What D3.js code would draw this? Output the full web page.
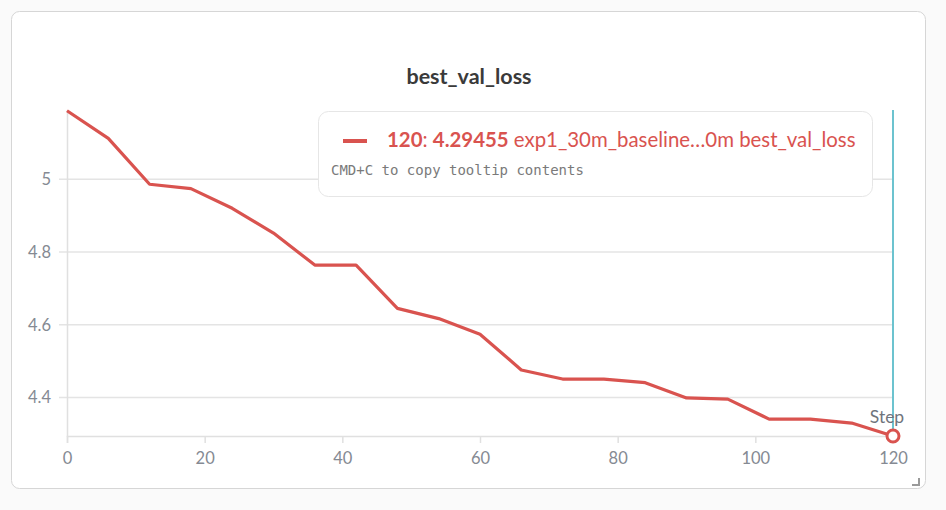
<!DOCTYPE html>
<html>
<head>
<meta charset="utf-8">
<script src="https://cdn.jsdelivr.net/npm/d3@7"></script>
<style>
  html, body { margin: 0; padding: 0; background: #fafafa; }
  svg { display: block; }
</style>
</head>
<body>
<div id="chart"></div>
<script>
// run history, logged every 6 steps
const steps = [0, 6, 12, 18, 24, 30, 36, 42, 48, 54, 60, 66, 72, 78, 84, 90, 96, 102, 108, 114, 120];
const bestValLoss = [5.188, 5.112, 4.986, 4.974, 4.920, 4.852, 4.764, 4.764, 4.645, 4.617, 4.574,
                     4.476, 4.451, 4.451, 4.441, 4.399, 4.396, 4.341, 4.341, 4.330, 4.29455];
const xTicks = [0, 20, 40, 60, 80, 100, 120];
const yTicks = [4.4, 4.6, 4.8, 5];
const runName = 'exp1_30m_baseline…0m best_val_loss';
const hoverStep = 120;

const width = 946, height = 510;
const plotLeft = 67, plotRight = 893, plotTop = 110, plotBottom = 436;
const red = '#d9534f';
const font = 'Lato, "Noto Sans", sans-serif';
const mono = '"DejaVu Sans Mono", "Liberation Mono", monospace';

const svg = d3.select('#chart')
              .append('svg')
              .attr('width', width)
              .attr('height', height);

// card
svg.append('rect')
   .attr('x', 11.5).attr('y', 11.5)
   .attr('width', 914).attr('height', 477)
   .attr('rx', 8)
   .attr('fill', '#fff')
   .attr('stroke', '#d6d6d6');

svg.append('text')
   .attr('x', 469).attr('y', 84)
   .attr('text-anchor', 'middle')
   .attr('font-family', font)
   .attr('font-weight', 'bold')
   .attr('font-size', '21.5px')
   .attr('fill', '#3a3a3a')
   .text('best_val_loss');

const x = d3.scaleLinear().domain([0, 120]).range([plotLeft, plotRight]);
const y = d3.scaleLinear().domain([4.29455, 5.19]).range([plotBottom, plotTop]);

// grid
svg.append('g')
   .selectAll('line')
   .data(yTicks)
   .enter()
     .append('line')
     .attr('x1', plotLeft - 8).attr('x2', plotRight)
     .attr('y1', d => y(d)).attr('y2', d => y(d))
     .attr('stroke', '#e4e4e4')
     .attr('stroke-width', 1.5);

const yAxis = svg.append('g')
                 .attr('transform', 'translate(' + plotLeft + ',0)')
                 .call(d3.axisLeft(y).tickValues(yTicks).tickSize(0).tickPadding(16).tickFormat(d3.format('')));
yAxis.select('.domain').attr('stroke', '#e0e0e0').attr('stroke-width', 1.5);

const xAxis = svg.append('g')
                 .attr('transform', 'translate(0,' + plotBottom + ')')
                 .call(d3.axisBottom(x).tickValues(xTicks).tickSize(7).tickPadding(9));
xAxis.select('.domain').attr('stroke', '#e0e0e0').attr('stroke-width', 1.5);
xAxis.selectAll('.tick line').attr('stroke', '#e0e0e0').attr('stroke-width', 1.5);

svg.selectAll('.tick text')
   .attr('font-family', font)
   .attr('font-size', '16.5px')
   .attr('fill', '#858a93');

// hover line
svg.append('line')
   .attr('x1', x(hoverStep)).attr('x2', x(hoverStep))
   .attr('y1', plotTop).attr('y2', plotBottom - 6)
   .attr('stroke', '#6cc3cf')
   .attr('stroke-width', 2);

svg.append('text')
   .attr('x', x(hoverStep) - 6).attr('y', 423)
   .attr('text-anchor', 'middle')
   .attr('font-family', font)
   .attr('font-size', '17.5px')
   .attr('fill', '#6f747c')
   .text('Step');

const line = d3.line()
               .x((d, i) => x(steps[i]))
               .y(d => y(d));

svg.append('path')
   .datum(bestValLoss)
   .attr('d', line)
   .attr('fill', 'none')
   .attr('stroke', red)
   .attr('stroke-width', 3.2)
   .attr('stroke-linejoin', 'round');

svg.append('circle')
   .attr('cx', x(hoverStep))
   .attr('cy', y(bestValLoss[steps.indexOf(hoverStep)]))
   .attr('r', 6)
   .attr('fill', '#fff')
   .attr('stroke', red)
   .attr('stroke-width', 3);

// tooltip
const tip = svg.append('g');
tip.append('rect')
   .attr('x', 318.5).attr('y', 111.5)
   .attr('width', 554).attr('height', 85)
   .attr('rx', 10)
   .attr('fill', '#fff')
   .attr('stroke', '#e6e6e6');

tip.append('line')
   .attr('x1', 343).attr('x2', 367)
   .attr('y1', 141).attr('y2', 141)
   .attr('stroke', red)
   .attr('stroke-width', 4);

const label = tip.append('text')
                 .attr('x', 387).attr('y', 147)
                 .attr('font-family', font)
                 .attr('font-size', '20.4px')
                 .attr('fill', red);
label.append('tspan').attr('font-weight', 'bold').text(hoverStep);
label.append('tspan').text(': ');
label.append('tspan').attr('font-weight', 'bold').text(bestValLoss[steps.indexOf(hoverStep)]);
label.append('tspan').text(' ' + runName);

tip.append('text')
   .attr('x', 331).attr('y', 175)
   .attr('font-family', mono)
   .attr('font-size', '14px')
   .attr('fill', '#7a7a7a')
   .text('CMD+C to copy tooltip contents');

// resize corner
svg.append('path')
   .attr('d', 'M912,485 L919,485 L919,478')
   .attr('fill', 'none')
   .attr('stroke', '#9a9a9a')
   .attr('stroke-width', 2);
</script>
</body>
</html>
